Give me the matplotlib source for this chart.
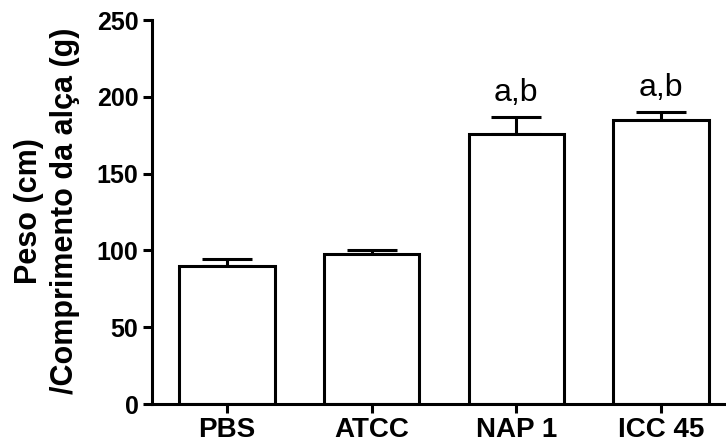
import matplotlib
matplotlib.use('Agg')
import matplotlib.pyplot as plt

# Dados
grupos = ['PBS', 'ATCC', 'NAP 1', 'ICC 45']
medias = [90, 97.5, 176, 185]
erros = [4.5, 2.5, 11, 5]
letras = ['', '', 'a,b', 'a,b']

plt.rcParams['font.family'] = ['Liberation Sans', 'DejaVu Sans']

fig = plt.figure(figsize=(7.26, 4.46), dpi=100)
ax = fig.add_axes([0.209, 0.094, 0.791, 0.861])

x = range(len(grupos))
lw = 2.2
ax.bar(x, medias, width=0.66, color='white', edgecolor='black', linewidth=lw, zorder=2)
ax.errorbar(x, medias, yerr=[[0] * len(erros), erros], fmt='none', ecolor='black',
            elinewidth=lw, capsize=18, capthick=lw, zorder=1)

# letras de significancia
for i, (m, e, t) in enumerate(zip(medias, erros, letras)):
    if t:
        ax.annotate(t, (i, m + e), xytext=(0, 11.5), textcoords='offset points',
                    ha='center', va='baseline', fontsize=23)

ax.set_xlim(-0.52, 3.45)
ax.set_ylim(0, 250)
ax.set_yticks([0, 50, 100, 150, 200, 250])
ax.set_xticks(list(x))
ax.set_xticklabels(grupos, fontsize=20, fontweight='bold')
for lab in ax.get_yticklabels():
    lab.set_fontsize(18)
    lab.set_fontweight('bold')

ax.spines['top'].set_visible(False)
ax.spines['right'].set_visible(False)
ax.spines['left'].set_linewidth(lw)
ax.spines['bottom'].set_linewidth(lw)
ax.tick_params(axis='both', width=lw, length=6.5, direction='out', pad=3)

fig.text(47 / 726, 1 - 211 / 446, 'Peso (cm)\n/Comprimento da alça (g)', rotation=90,
         ha='center', va='center', multialignment='center', fontsize=22,
         fontweight='bold', linespacing=1.3)

fig.savefig('out.png', dpi=100)
